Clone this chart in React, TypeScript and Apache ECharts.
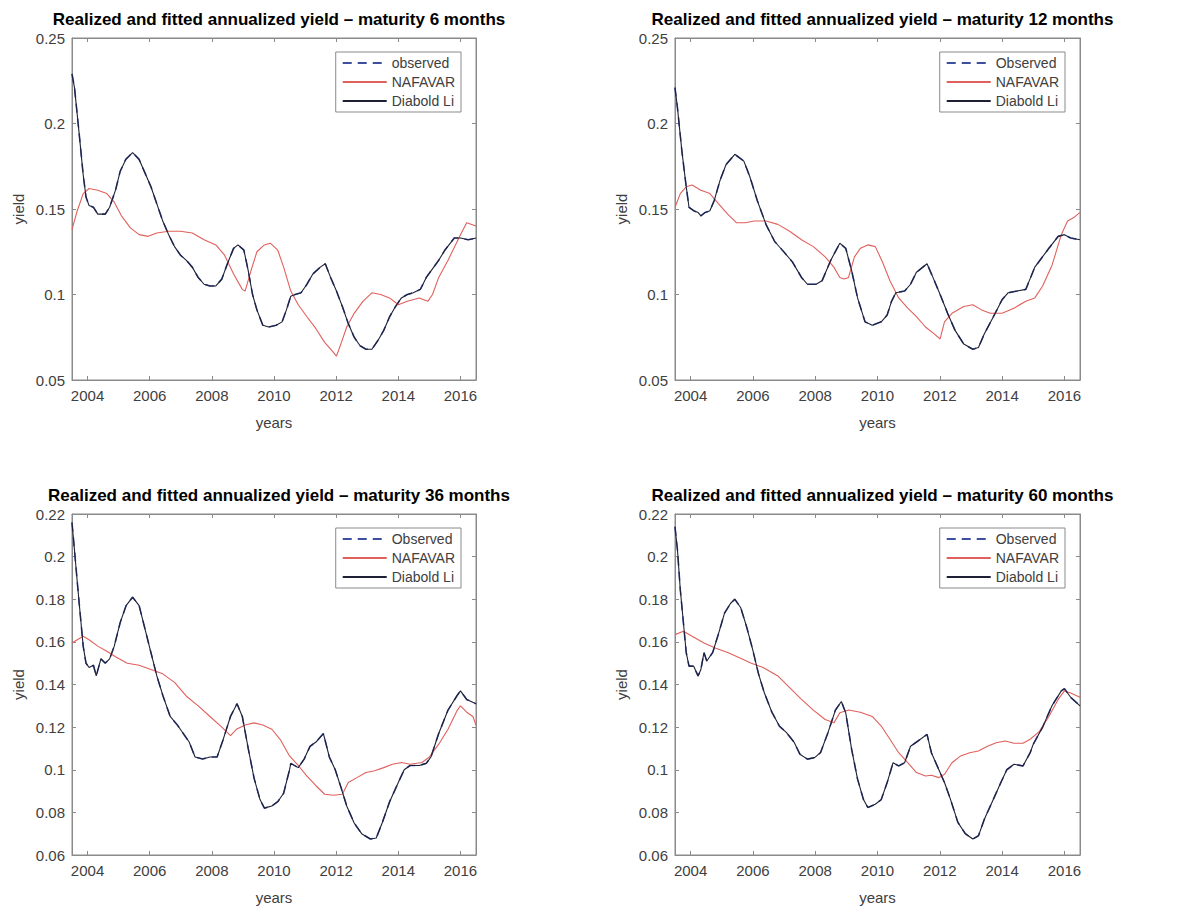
import React, { useEffect, useRef } from "react";
import * as echarts from "echarts";

// ---------- data ----------
const yearTicks = [2004, 2006, 2008, 2010, 2012, 2014, 2016];
const xMin = 2003.5;
const xMax = 2016.5;

const titles = [
  "Realized and fitted annualized yield \u2013 maturity 6 months",
  "Realized and fitted annualized yield \u2013 maturity 12 months",
  "Realized and fitted annualized yield \u2013 maturity 36 months",
  "Realized and fitted annualized yield \u2013 maturity 60 months",
];
const observedNames = ["observed", "Observed", "Observed", "Observed"];

// Diabold Li fit (observed series coincides with it in the picture)
const diebold6: [number, number][] = [
  [2003.5, 0.229], [2003.58, 0.221], [2003.72, 0.196], [2003.86, 0.17], [2003.95, 0.157], [2004.05, 0.152],
  [2004.19, 0.151], [2004.33, 0.147], [2004.57, 0.147], [2004.71, 0.151], [2004.9, 0.161], [2005.05, 0.172],
  [2005.23, 0.179], [2005.45, 0.183], [2005.66, 0.179], [2005.85, 0.171], [2006.04, 0.163], [2006.23, 0.153],
  [2006.42, 0.143], [2006.61, 0.135], [2006.8, 0.128], [2006.99, 0.123], [2007.18, 0.12], [2007.37, 0.116],
  [2007.56, 0.11], [2007.75, 0.106], [2007.94, 0.105], [2008.13, 0.105], [2008.32, 0.109], [2008.5, 0.118],
  [2008.7, 0.127], [2008.84, 0.129], [2009.03, 0.126], [2009.17, 0.114], [2009.31, 0.1], [2009.45, 0.091],
  [2009.64, 0.082], [2009.83, 0.081], [2010.07, 0.082], [2010.26, 0.084], [2010.4, 0.091], [2010.54, 0.099],
  [2010.68, 0.1], [2010.87, 0.101], [2011.06, 0.106], [2011.25, 0.112], [2011.49, 0.116], [2011.65, 0.118],
  [2011.82, 0.11], [2012.01, 0.102], [2012.2, 0.093], [2012.39, 0.083], [2012.58, 0.075], [2012.77, 0.07],
  [2012.96, 0.068], [2013.15, 0.068], [2013.34, 0.073], [2013.53, 0.079], [2013.72, 0.087], [2013.91, 0.093],
  [2014.1, 0.098], [2014.29, 0.1], [2014.48, 0.101], [2014.71, 0.103], [2014.9, 0.11], [2015.1, 0.115],
  [2015.3, 0.12], [2015.5, 0.126], [2015.8, 0.133], [2016.0, 0.133], [2016.25, 0.132], [2016.5, 0.133],
];
const nafavar6: [number, number][] = [
  [2003.5, 0.138], [2003.67, 0.149], [2003.86, 0.159], [2004.05, 0.162], [2004.33, 0.161], [2004.62, 0.159],
  [2004.86, 0.154], [2005.09, 0.146], [2005.38, 0.139], [2005.66, 0.135], [2005.95, 0.134], [2006.23, 0.136],
  [2006.61, 0.137], [2006.99, 0.137], [2007.37, 0.136], [2007.75, 0.132], [2008.13, 0.129], [2008.41, 0.123],
  [2008.7, 0.112], [2008.98, 0.103], [2009.07, 0.102], [2009.26, 0.114], [2009.45, 0.125], [2009.69, 0.129],
  [2009.88, 0.13], [2010.12, 0.126], [2010.31, 0.116], [2010.54, 0.102], [2010.78, 0.094], [2011.06, 0.087],
  [2011.35, 0.08], [2011.63, 0.072], [2011.87, 0.067], [2012.01, 0.064], [2012.15, 0.071], [2012.34, 0.081],
  [2012.58, 0.089], [2012.86, 0.096], [2013.15, 0.101], [2013.43, 0.1], [2013.72, 0.098], [2014.0, 0.094],
  [2014.29, 0.096], [2014.67, 0.098], [2014.95, 0.096], [2015.1, 0.1], [2015.3, 0.11], [2015.6, 0.12],
  [2016.0, 0.135], [2016.2, 0.142], [2016.5, 0.14],
];
const diebold12: [number, number][] = [
  [2003.5, 0.221], [2003.58, 0.209], [2003.72, 0.184], [2003.86, 0.163], [2003.95, 0.151], [2004.1, 0.149],
  [2004.24, 0.148], [2004.33, 0.146], [2004.47, 0.148], [2004.62, 0.149], [2004.76, 0.155], [2004.95, 0.167],
  [2005.14, 0.176], [2005.42, 0.182], [2005.71, 0.178], [2005.9, 0.169], [2006.14, 0.155], [2006.42, 0.141],
  [2006.7, 0.131], [2006.99, 0.125], [2007.27, 0.119], [2007.56, 0.11], [2007.75, 0.106], [2008.03, 0.106],
  [2008.22, 0.108], [2008.5, 0.12], [2008.79, 0.13], [2008.98, 0.127], [2009.17, 0.114], [2009.36, 0.098],
  [2009.6, 0.084], [2009.83, 0.082], [2010.12, 0.084], [2010.31, 0.088], [2010.45, 0.096], [2010.59, 0.101],
  [2010.87, 0.102], [2011.06, 0.106], [2011.25, 0.113], [2011.59, 0.118], [2011.78, 0.11], [2012.01, 0.1],
  [2012.25, 0.089], [2012.49, 0.079], [2012.77, 0.071], [2013.06, 0.068], [2013.24, 0.069], [2013.43, 0.077],
  [2013.72, 0.087], [2014.0, 0.097], [2014.19, 0.101], [2014.48, 0.102], [2014.76, 0.103], [2015.05, 0.116],
  [2015.5, 0.127], [2015.8, 0.134], [2016.0, 0.135], [2016.2, 0.133], [2016.5, 0.132],
];
const nafavar12: [number, number][] = [
  [2003.5, 0.151], [2003.67, 0.159], [2003.86, 0.163], [2004.05, 0.164], [2004.33, 0.161], [2004.62, 0.159],
  [2004.9, 0.153], [2005.19, 0.147], [2005.47, 0.142], [2005.76, 0.142], [2006.04, 0.143], [2006.42, 0.143],
  [2006.8, 0.141], [2007.18, 0.137], [2007.56, 0.132], [2007.94, 0.128], [2008.32, 0.122], [2008.6, 0.116],
  [2008.79, 0.11], [2008.93, 0.109], [2009.07, 0.11], [2009.26, 0.122], [2009.45, 0.127], [2009.69, 0.129],
  [2009.93, 0.128], [2010.16, 0.119], [2010.4, 0.108], [2010.68, 0.098], [2010.97, 0.092], [2011.25, 0.087],
  [2011.54, 0.081], [2011.82, 0.077], [2012.01, 0.074], [2012.15, 0.084], [2012.39, 0.089], [2012.77, 0.093],
  [2013.06, 0.094], [2013.34, 0.091], [2013.62, 0.089], [2014.0, 0.089], [2014.38, 0.092], [2014.76, 0.096],
  [2015.05, 0.098], [2015.3, 0.105], [2015.6, 0.117], [2015.9, 0.135], [2016.1, 0.143], [2016.3, 0.145],
  [2016.5, 0.148],
];
const diebold36: [number, number][] = [
  [2003.5, 0.216], [2003.58, 0.203], [2003.67, 0.188], [2003.77, 0.172], [2003.86, 0.158], [2003.95, 0.15],
  [2004.05, 0.148], [2004.19, 0.149], [2004.28, 0.144], [2004.43, 0.152], [2004.57, 0.15], [2004.71, 0.152],
  [2004.86, 0.158], [2005.05, 0.169], [2005.24, 0.177], [2005.45, 0.181], [2005.66, 0.177], [2005.85, 0.166],
  [2006.04, 0.155], [2006.23, 0.144], [2006.42, 0.135], [2006.66, 0.125], [2006.89, 0.121], [2007.08, 0.117],
  [2007.27, 0.113], [2007.46, 0.106], [2007.7, 0.105], [2007.94, 0.106], [2008.17, 0.106], [2008.36, 0.114],
  [2008.6, 0.125], [2008.81, 0.131], [2008.98, 0.125], [2009.17, 0.11], [2009.36, 0.096], [2009.55, 0.086],
  [2009.69, 0.082], [2009.93, 0.083], [2010.12, 0.085], [2010.31, 0.089], [2010.5, 0.1], [2010.54, 0.103],
  [2010.78, 0.101], [2010.97, 0.105], [2011.16, 0.111], [2011.35, 0.113], [2011.59, 0.117], [2011.78, 0.106],
  [2011.97, 0.1], [2012.15, 0.092], [2012.34, 0.083], [2012.58, 0.075], [2012.82, 0.07], [2013.1, 0.0675],
  [2013.29, 0.068], [2013.48, 0.075], [2013.72, 0.085], [2014.0, 0.094], [2014.19, 0.1], [2014.38, 0.102],
  [2014.67, 0.102], [2014.9, 0.103], [2015.05, 0.106], [2015.3, 0.117], [2015.6, 0.128], [2015.9, 0.135],
  [2016.0, 0.137], [2016.2, 0.133], [2016.5, 0.131],
];
const nafavar36: [number, number][] = [
  [2003.5, 0.1595], [2003.67, 0.161], [2003.86, 0.1626], [2004.05, 0.161], [2004.33, 0.158], [2004.62, 0.1556],
  [2004.9, 0.153], [2005.28, 0.15], [2005.66, 0.149], [2006.04, 0.147], [2006.42, 0.145], [2006.8, 0.141],
  [2007.18, 0.1345], [2007.56, 0.13], [2007.94, 0.125], [2008.32, 0.12], [2008.6, 0.116], [2008.79, 0.119],
  [2009.07, 0.121], [2009.36, 0.122], [2009.64, 0.121], [2009.93, 0.119], [2010.21, 0.114], [2010.5, 0.1065],
  [2010.78, 0.102], [2011.06, 0.097], [2011.35, 0.0925], [2011.63, 0.0885], [2011.92, 0.088], [2012.2, 0.0885],
  [2012.39, 0.094], [2012.67, 0.0963], [2012.96, 0.0987], [2013.24, 0.0995], [2013.53, 0.101], [2013.81, 0.1026],
  [2014.1, 0.1034], [2014.38, 0.1026], [2014.76, 0.1034], [2015.0, 0.106], [2015.3, 0.112], [2015.6, 0.119],
  [2015.9, 0.128], [2016.0, 0.13], [2016.2, 0.127], [2016.4, 0.125], [2016.5, 0.121],
];
const diebold60: [number, number][] = [
  [2003.5, 0.214], [2003.58, 0.203], [2003.67, 0.1845], [2003.77, 0.169], [2003.86, 0.155], [2003.95, 0.1486],
  [2004.1, 0.1486], [2004.24, 0.144], [2004.33, 0.147], [2004.43, 0.155], [2004.52, 0.151], [2004.71, 0.155],
  [2004.9, 0.164], [2005.09, 0.1735], [2005.28, 0.178], [2005.42, 0.18], [2005.61, 0.176], [2005.8, 0.167],
  [2006.0, 0.156], [2006.18, 0.145], [2006.37, 0.136], [2006.61, 0.127], [2006.85, 0.1205], [2007.08, 0.1174],
  [2007.32, 0.113], [2007.51, 0.1073], [2007.75, 0.105], [2007.98, 0.1057], [2008.17, 0.108], [2008.41, 0.1174],
  [2008.65, 0.128], [2008.84, 0.132], [2008.98, 0.1267], [2009.17, 0.1096], [2009.36, 0.0956], [2009.55, 0.086],
  [2009.69, 0.0823], [2009.93, 0.0838], [2010.12, 0.086], [2010.31, 0.094], [2010.5, 0.1033], [2010.68, 0.1018],
  [2010.87, 0.1033], [2011.06, 0.111], [2011.3, 0.1135], [2011.59, 0.1166], [2011.73, 0.108], [2011.97, 0.1],
  [2012.15, 0.094], [2012.34, 0.0862], [2012.58, 0.0753], [2012.82, 0.07], [2013.06, 0.0675], [2013.24, 0.069],
  [2013.43, 0.0768], [2013.72, 0.0862], [2013.96, 0.094], [2014.15, 0.1], [2014.38, 0.1026], [2014.67, 0.1018],
  [2014.9, 0.108], [2015.0, 0.112], [2015.3, 0.12], [2015.6, 0.13], [2015.9, 0.137], [2016.0, 0.138],
  [2016.2, 0.134], [2016.5, 0.13],
];
const nafavar60: [number, number][] = [
  [2003.5, 0.1634], [2003.77, 0.165], [2004.05, 0.1626], [2004.43, 0.1595], [2004.81, 0.157], [2005.19, 0.155],
  [2005.57, 0.1525], [2005.95, 0.15], [2006.33, 0.148], [2006.8, 0.144], [2007.18, 0.1385], [2007.56, 0.133],
  [2007.94, 0.128], [2008.32, 0.1236], [2008.6, 0.122], [2008.79, 0.1267], [2009.07, 0.128], [2009.45, 0.127],
  [2009.83, 0.125], [2010.12, 0.1205], [2010.4, 0.1143], [2010.68, 0.108], [2010.97, 0.1033], [2011.25, 0.0987],
  [2011.54, 0.0971], [2011.73, 0.0974], [2011.97, 0.0963], [2012.15, 0.0979], [2012.39, 0.1033], [2012.67, 0.1065],
  [2012.96, 0.108], [2013.24, 0.1088], [2013.53, 0.111], [2013.81, 0.1127], [2014.1, 0.1135], [2014.38, 0.1124],
  [2014.67, 0.1124], [2014.9, 0.1143], [2015.2, 0.118], [2015.5, 0.125], [2015.8, 0.133], [2016.0, 0.137],
  [2016.2, 0.136], [2016.5, 0.134],
];

const dieboldSeries = [diebold6, diebold12, diebold36, diebold60];
const nafavarSeries = [nafavar6, nafavar12, nafavar36, nafavar60];
const yMins = [0.05, 0.05, 0.06, 0.06];
const yMaxs = [0.25, 0.25, 0.22, 0.22];
const yIntervals = [0.05, 0.05, 0.02, 0.02];

// ---------- layout ----------
const panels = [
  { left: 72, top: 38, width: 404, height: 342 },
  { left: 675, top: 38, width: 405, height: 342 },
  { left: 72, top: 514, width: 404, height: 341 },
  { left: 675, top: 514, width: 405, height: 341 },
];

const FONT = "'Liberation Sans', Arial, Helvetica, sans-serif";
const AXIS_COLOR = "#8a8a8a";
const LABEL_COLOR = "#404040";

export default function App() {
  const ref = useRef<HTMLDivElement>(null);

  useEffect(() => {
    if (!ref.current) return;
    const chart = echarts.init(ref.current, undefined, { renderer: "svg" });

    const grids: any[] = [];
    const xAxes: any[] = [];
    const yAxes: any[] = [];
    const series: any[] = [];
    const legends: any[] = [];
    const titleOpts: any[] = [];

    panels.forEach((p, i) => {
      grids.push({
        left: p.left,
        top: p.top,
        width: p.width,
        height: p.height,
        show: true,
        borderColor: AXIS_COLOR,
        borderWidth: 1,
        backgroundColor: "#fff",
      });
      const baseX = {
        type: "value",
        gridIndex: i,
        min: xMin,
        max: xMax,
        splitLine: { show: false },
        axisLine: { show: true, lineStyle: { color: AXIS_COLOR } },
        axisTick: { show: true, inside: true, length: 4, customValues: yearTicks, lineStyle: { color: AXIS_COLOR } },
      };
      xAxes.push({
        ...baseX,
        position: "bottom",
        name: "years",
        nameLocation: "middle",
        nameGap: 35,
        nameTextStyle: { fontFamily: FONT, fontSize: 15, color: LABEL_COLOR },
        axisLabel: {
          show: true,
          customValues: yearTicks,
          fontFamily: FONT,
          fontSize: 15,
          color: LABEL_COLOR,
          margin: 8,
          formatter: (v: number) => String(v),
        },
      });
      xAxes.push({ ...baseX, position: "top", axisLabel: { show: false } });
      const baseY = {
        type: "value",
        gridIndex: i,
        min: yMins[i],
        max: yMaxs[i],
        interval: yIntervals[i],
        splitLine: { show: false },
        axisLine: { show: true, lineStyle: { color: AXIS_COLOR } },
        axisTick: { show: true, inside: true, length: 4, lineStyle: { color: AXIS_COLOR } },
      };
      yAxes.push({
        ...baseY,
        position: "left",
        name: "yield",
        nameLocation: "middle",
        nameGap: 46,
        nameRotate: 90,
        nameTextStyle: { fontFamily: FONT, fontSize: 15, color: LABEL_COLOR },
        axisLabel: {
          show: true,
          fontFamily: FONT,
          fontSize: 15,
          color: LABEL_COLOR,
          margin: 7,
          showMinLabel: true,
          showMaxLabel: true,
          formatter: (v: number) => String(parseFloat(v.toFixed(4))),
        },
      });
      yAxes.push({ ...baseY, position: "right", axisLabel: { show: false } });

      const xi = i * 2;
      const yi = i * 2;
      series.push({
        name: observedNames[i],
        type: "line",
        xAxisIndex: xi,
        yAxisIndex: yi,
        data: dieboldSeries[i],
        showSymbol: false,
        symbol: "none",
        lineStyle: { color: "#3d4f9f", width: 1.6, type: [9, 6] },
        itemStyle: { color: "#3d4f9f" },
        z: 2,
      });
      series.push({
        name: "NAFAVAR",
        type: "line",
        xAxisIndex: xi,
        yAxisIndex: yi,
        data: nafavarSeries[i],
        showSymbol: false,
        symbol: "none",
        lineStyle: { color: "#e0605c", width: 1.1 },
        itemStyle: { color: "#e0605c" },
        z: 3,
      });
      series.push({
        name: "Diabold Li",
        type: "line",
        xAxisIndex: xi,
        yAxisIndex: yi,
        data: dieboldSeries[i],
        showSymbol: false,
        symbol: "none",
        lineStyle: { color: "#1e2036", width: 1.1 },
        itemStyle: { color: "#1e2036" },
        z: 4,
      });

      legends.push({
        data: [observedNames[i], "NAFAVAR", "Diabold Li"],
        orient: "vertical",
        right: 1187 - (p.left + p.width) + 15,
        top: p.top + 14,
        backgroundColor: "#fff",
        borderColor: AXIS_COLOR,
        borderWidth: 1,
        borderRadius: 0,
        padding: [4, 6, 4, 6],
        itemGap: 5,
        itemWidth: 44,
        itemHeight: 14,
        selectedMode: false,
        itemStyle: { opacity: 0 },
        textStyle: { fontFamily: FONT, fontSize: 14, color: LABEL_COLOR },
      });

      titleOpts.push({
        text: titles[i],
        left: p.left + p.width / 2,
        top: p.top - 33,
        textAlign: "center",
        textStyle: { fontFamily: FONT, fontSize: 17, fontWeight: "bold", color: "#000", lineHeight: 19 },
      });
    });

    chart.setOption({
      animation: false,
      backgroundColor: "#fff",
      title: titleOpts,
      legend: legends,
      grid: grids,
      xAxis: xAxes,
      yAxis: yAxes,
      series,
    });

    return () => chart.dispose();
  }, []);

  return (
    <div
      ref={ref}
      style={{ position: "fixed", left: 0, top: 0, width: 1187, height: 912, background: "#fff" }}
    />
  );
}
